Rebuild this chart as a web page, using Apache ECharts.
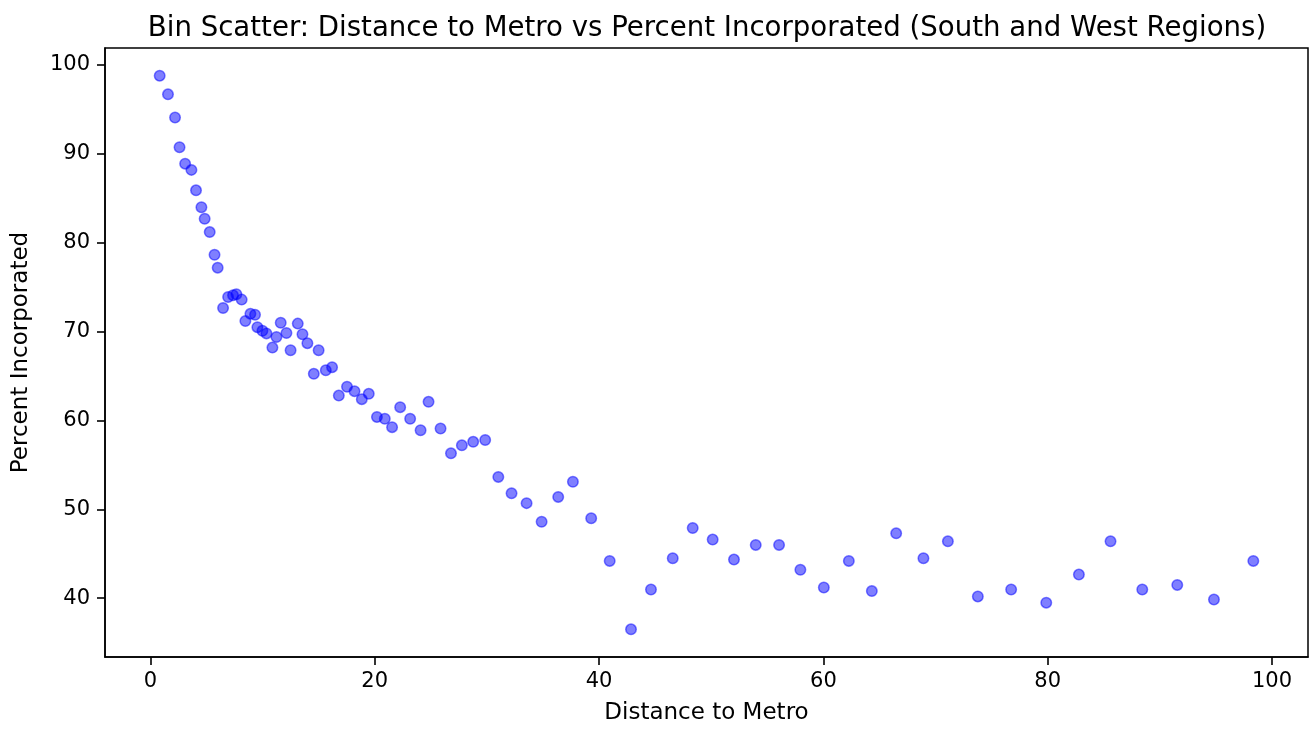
<!DOCTYPE html>
<html>
<head>
<meta charset="utf-8">
<script src="https://cdn.jsdelivr.net/npm/echarts@6/dist/echarts.min.js"></script>
<style>
html,body{margin:0;padding:0;background:#fff;}
#chart{width:1310px;height:730px;}
</style>
</head>
<body>
<div id="chart"></div>
<script>
const titleText = "Bin Scatter: Distance to Metro vs Percent Incorporated (South and West Regions)";
const xName = "Distance to Metro";
const yName = "Percent Incorporated";
const xTicks = [0, 20, 40, 60, 80, 100];
const yTicks = [40, 50, 60, 70, 80, 90, 100];
const distance = [0.83,1.57,2.2,2.6,3.1,3.66,4.07,4.55,4.84,5.29,
  5.72,6.0,6.48,6.93,7.37,7.67,8.14,8.47,8.92,9.33,
  9.54,9.99,10.35,10.88,11.24,11.62,12.13,12.5,13.14,13.56,
  14.0,14.57,15.0,15.64,16.2,16.8,17.53,18.2,18.85,19.47,
  20.2,20.9,21.55,22.27,23.16,24.09,24.8,25.87,26.8,27.77,
  28.78,29.85,31.02,32.2,33.54,34.88,36.36,37.67,39.3,40.95,
  42.85,44.63,46.57,48.35,50.13,52.03,53.97,56.05,57.95,60.04,
  62.27,64.32,66.49,68.92,71.1,73.77,76.74,79.87,82.78,85.6,
  88.43,91.55,94.82,98.33];
const pctIncorporated = [98.8,96.7,94.1,90.75,88.9,88.2,85.9,84.0,82.7,81.2,
  78.65,77.2,72.66,73.9,74.1,74.2,73.6,71.2,72.0,71.9,
  70.5,70.1,69.8,68.2,69.4,71.0,69.85,67.9,70.9,69.7,
  68.7,65.25,67.9,65.65,66.0,62.8,63.8,63.3,62.4,63.0,
  60.4,60.2,59.25,61.5,60.2,58.9,62.1,59.1,56.3,57.2,
  57.6,57.8,53.65,51.8,50.7,48.6,51.4,53.1,49.0,44.2,
  36.5,40.98,44.5,47.9,46.6,44.35,46.0,46.0,43.2,41.2,
  44.2,40.8,47.3,44.5,46.4,40.2,40.98,39.5,42.66,46.4,
  40.98,41.5,39.85,44.2];

const points = distance.map((x, i) => [x, pctIncorporated[i]]);
const xMin = Math.min(...distance), xMax = Math.max(...distance);
const yMin = Math.min(...pctIncorporated), yMax = Math.max(...pctIncorporated);
const xPad = (xMax - xMin) * 0.05, yPad = (yMax - yMin) * 0.05;

const FONT = "DejaVu Sans";
const chart = echarts.init(document.getElementById('chart'), null, {renderer: 'canvas'});
chart.setOption({
  backgroundColor: '#fff',
  animation: false,
  title: {
    text: titleText,
    left: 702,
    top: 10,
    textAlign: 'center',
    textStyle: {fontFamily: FONT, fontSize: 27.6, fontWeight: 'normal', color: '#000'}
  },
  grid: {
    left: 105, right: 2, top: 48, bottom: 72,
    show: true, borderColor: '#000', borderWidth: 1.5, backgroundColor: 'transparent'
  },
  xAxis: {
    type: 'value',
    min: xMin - xPad, max: xMax + xPad,
    name: xName, nameLocation: 'middle', nameGap: 45,
    nameTextStyle: {fontFamily: FONT, fontSize: 23, color: '#000'},
    axisLine: {show: true, onZero: false, lineStyle: {color: '#000', width: 1.5}},
    splitLine: {show: false},
    axisTick: {show: true, inside: false, length: 8, customValues: xTicks, lineStyle: {color: '#000', width: 1.6}},
    axisLabel: {customValues: xTicks, margin: 14, fontFamily: FONT, fontSize: 21, color: '#000'}
  },
  yAxis: {
    type: 'value',
    min: yMin - yPad, max: yMax + yPad,
    name: yName, nameLocation: 'middle', nameGap: 72, nameRotate: 90,
    nameTextStyle: {fontFamily: FONT, fontSize: 23, color: '#000'},
    axisLine: {show: true, onZero: false, lineStyle: {color: '#000', width: 1.5}},
    splitLine: {show: false},
    axisTick: {show: true, inside: false, length: 8, customValues: yTicks, lineStyle: {color: '#000', width: 1.6}},
    axisLabel: {customValues: yTicks, margin: 15, fontFamily: FONT, fontSize: 21, color: '#000'}
  },
  series: [{
    type: 'scatter',
    data: points,
    symbol: 'circle',
    symbolSize: 10.5,
    itemStyle: {color: 'rgba(0,0,255,0.5)', borderColor: 'rgba(0,0,255,0.5)', borderWidth: 1.5, opacity: 1}
  }]
});
</script>
</body>
</html>
